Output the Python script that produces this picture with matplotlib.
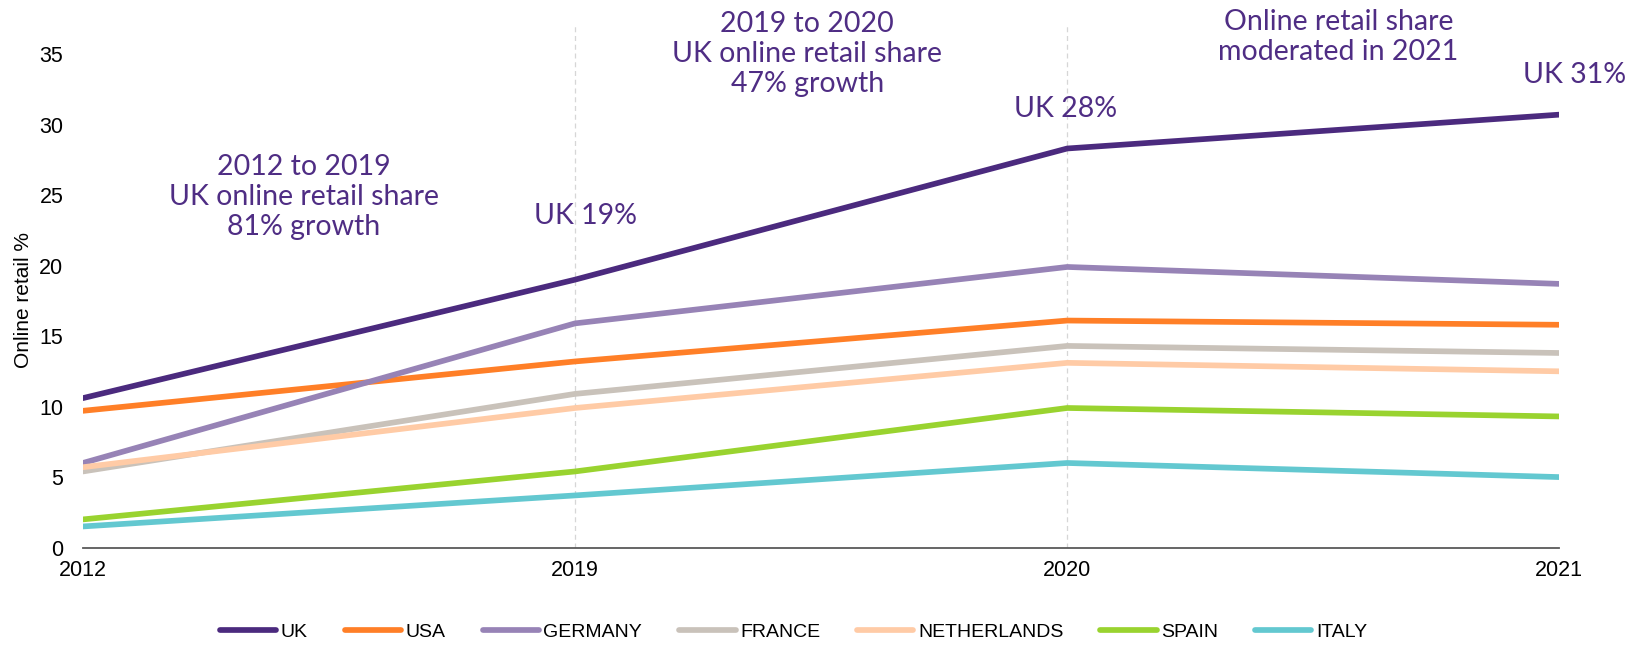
import matplotlib
matplotlib.use("Agg")
import matplotlib.pyplot as plt

years = ["2012", "2019", "2020", "2021"]
uk = [10.6, 19.0, 28.3, 30.7]
usa = [9.7, 13.2, 16.1, 15.8]
germany = [6.0, 15.9, 19.9, 18.7]
france = [5.4, 10.9, 14.3, 13.8]
netherlands = [5.7, 9.9, 13.1, 12.5]
spain = [2.0, 5.4, 9.9, 9.3]
italy = [1.5, 3.7, 6.0, 5.0]

series = [
    ("UK", uk, "#4B2A7E"),
    ("USA", usa, "#FF7F27"),
    ("GERMANY", germany, "#9783B6"),
    ("FRANCE", france, "#C9C2BA"),
    ("NETHERLANDS", netherlands, "#FFCBA6"),
    ("SPAIN", spain, "#99D32F"),
    ("ITALY", italy, "#63C8D0"),
]

yticks = [0, 5, 10, 15, 20, 25, 30, 35]

purple = "#4F2D84"
label_font = ["Liberation Sans", "DejaVu Sans"]
note_font = ["Lato", "DejaVu Sans"]

fig = plt.figure(figsize=(16.26, 6.45), dpi=100)
ax = fig.add_axes([0.051, 0.151, 0.908, 0.809])

x = list(range(len(years)))
for name, vals, col in series:
    ax.plot(x, vals, color=col, lw=4.1, label=name, solid_capstyle="round",
            solid_joinstyle="round", zorder=3)

# dashed guides at the pandemic years
for xi in (1, 2):
    ax.axvline(xi, color="#D6D6D6", lw=0.9, ls=(0, (4, 3)), zorder=1)

ax.set_xlim(0, 3)
ax.set_ylim(0, 37)
ax.set_xticks(x)
ax.set_xticklabels(years, fontsize=15.5, family=label_font)
ax.set_yticks(yticks)
ax.set_yticklabels([str(t) for t in yticks], fontsize=15.5, family=label_font)
ax.tick_params(axis="both", length=0)
ax.tick_params(axis="x", pad=9)
ax.tick_params(axis="y", pad=14)
for s in ("top", "right", "left"):
    ax.spines[s].set_visible(False)
ax.spines["bottom"].set_color("#595959")
ax.spines["bottom"].set_linewidth(1.3)
ax.set_ylabel("Online retail %", fontsize=15, family=label_font)
ax.yaxis.set_label_coords(-0.034, 0.474)

note_kw = dict(color=purple, fontsize=20.5, family=note_font, fontweight="normal",
               ha="center", va="center", linespacing=1.2)
ax.text(0.449, 24.85, "2012 to 2019\nUK online retail share\n81% growth", **note_kw)
ax.text(1.022, 23.5, "UK 19%", **note_kw)
ax.text(1.472, 35.0, "2019 to 2020\nUK online retail share\n47% growth", **note_kw)
ax.text(1.997, 31.1, "UK 28%", **note_kw)
ax.text(2.551, 36.2, "Online retail share\nmoderated in 2021", **note_kw)
ax.text(3.03, 33.5, "UK 31%", **note_kw)

leg = fig.legend(loc="center", bbox_to_anchor=(0.488, 0.02), ncol=7, frameon=False,
                 prop={"family": label_font, "size": 14}, handlelength=2.9,
                 handletextpad=0.23, columnspacing=1.9)

fig.savefig("out.png", dpi=100)
